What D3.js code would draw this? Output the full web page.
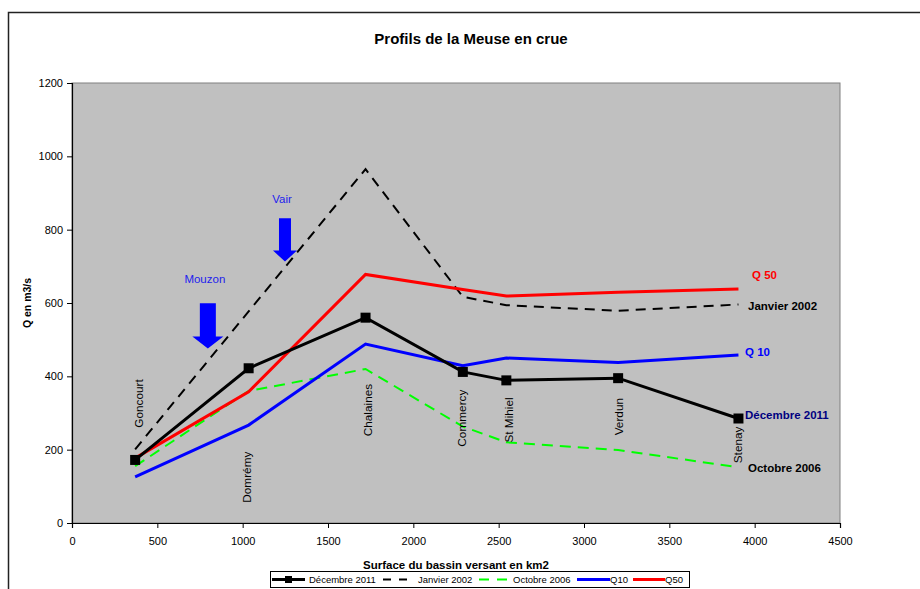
<!DOCTYPE html>
<html><head><meta charset="utf-8">
<script src="https://cdn.jsdelivr.net/npm/d3@7"></script>
<style>
body{margin:0;background:#fff;}
svg{display:block;font-family:"Liberation Sans",Arial,sans-serif;}
</style></head>
<body><svg id="c" width="920" height="589"></svg>
<script>
// ---- data ----
const stations = ["Goncourt","Domrémy","Chalaines","Commercy","St Mihiel","Verdun","Stenay"];
const surfaces = [370, 1035, 1720, 2290, 2545, 3200, 3905];
const dec2011 = [172, 422, 560, 412, 389, 395, 285];
const jan2002 = [201, 577, 965, 617, 594, 579, 596];
const oct2006 = [155, 360, 420, 263, 220, 199, 152];
const q10 = [126, 267, 488, 429, 450, 438, 458];
const q50 = [177, 358, 678, 637, 619, 629, 638];
const seriesNames = ["Décembre 2011","Janvier 2002","Octobre 2006","Q10","Q50"];
const endLabels = ["Décembre 2011","Janvier 2002","Octobre 2006","Q 10","Q 50"];
const xTicks = [0,500,1000,1500,2000,2500,3000,3500,4000,4500];
const yTicks = [0,200,400,600,800,1000,1200];
// station label positions (data coords: y of label centre)
const stationLabelY = [326, 125, 308, 286, 281, 290, 213];
const stationLabelDx = [8, 2, 6, 3, 7, 5, 4];
// tributary annotations (data coords)
const tributaries = ["Mouzon","Vair"];
const tribArrowX = [796, 1248];
const tribArrowTop = [599, 831];
const tribArrowTip = [476, 713];
const tribLabelY = [654, 873];

const svg = d3.select("#c");
const x = d3.scaleLinear().domain([0,4500]).range([72,840]);
const y = d3.scaleLinear().domain([0,1200]).range([523,83]);

// outer frame
svg.append("path").attr("d","M8.5,600 L8.5,12.5 L930,12.5").attr("fill","none").attr("stroke","#222").attr("stroke-width",1.5);

// title
svg.append("text").attr("x",471).attr("y",44).attr("text-anchor","middle")
  .attr("font-size",15).attr("font-weight","bold").text("Profils de la Meuse en crue");

// plot area
svg.append("rect").attr("x",x(0)).attr("y",y(1200)).attr("width",x(4500)-x(0)).attr("height",y(0)-y(1200))
  .attr("fill","#C0C0C0").attr("stroke","#808080").attr("stroke-width",1);

// axes
const gx = svg.append("g").attr("transform",`translate(0,${y(0)})`)
  .call(d3.axisBottom(x).tickValues(xTicks).tickSize(5).tickPadding(9).tickFormat(d3.format("d")));
const gy = svg.append("g").attr("transform",`translate(${x(0)},0)`)
  .call(d3.axisLeft(y).tickValues(yTicks).tickSize(5).tickPadding(4).tickFormat(d3.format("d")));
[gx,gy].forEach(g=>{
  g.select(".domain").attr("stroke","#000").attr("stroke-width",1.2);
  g.selectAll(".tick line").attr("stroke","#000");
  g.selectAll(".tick text").attr("font-size",11).attr("font-family","Liberation Sans, Arial, sans-serif").attr("fill","#000");
});

// axis titles
svg.append("text").attr("x",(x(0)+x(4500))/2).attr("y",569).attr("text-anchor","middle")
  .attr("font-size",11.5).attr("font-weight","bold").text("Surface du bassin versant en km2");
svg.append("text").attr("transform",`translate(31,${(y(0)+y(1200))/2}) rotate(-90)`).attr("text-anchor","middle")
  .attr("font-size",10.5).attr("font-weight","bold").text("Q en m3/s");

// series
const series = [
  {name:seriesNames[0], vals:dec2011, color:"#000", w:3, dash:null, marker:true},
  {name:seriesNames[1], vals:jan2002, color:"#000", w:2, dash:"10,7", marker:false},
  {name:seriesNames[2], vals:oct2006, color:"#00FF00", w:2, dash:"11,7", marker:false},
  {name:seriesNames[3], vals:q10, color:"#0000FF", w:3, dash:null, marker:false},
  {name:seriesNames[4], vals:q50, color:"#FF0000", w:3, dash:null, marker:false}
];
const line = d3.line().x(d=>x(d[0])).y(d=>y(d[1]));
const drawOrder = [1,2,3,4,0];
drawOrder.forEach(i=>{
  const s = series[i];
  svg.append("path").datum(surfaces.map((sx,j)=>[sx,s.vals[j]]))
    .attr("d",line).attr("fill","none").attr("stroke",s.color).attr("stroke-width",s.w)
    .attr("stroke-dasharray",s.dash).attr("stroke-linejoin","miter");
});
svg.selectAll("rect.mk").data(surfaces.map((sx,j)=>[sx,dec2011[j]])).enter().append("rect")
  .attr("class","mk").attr("x",d=>x(d[0])-5).attr("y",d=>y(d[1])-5).attr("width",10).attr("height",10).attr("fill","#000");

// station labels (rotated)
stations.forEach((st,i)=>{
  svg.append("text")
    .attr("transform",`translate(${x(surfaces[i])+stationLabelDx[i]},${y(stationLabelY[i])}) rotate(-90)`)
    .attr("text-anchor","middle").attr("font-size",11.8).attr("fill","#000").text(st);
});

// end-of-series labels
const endColors = ["#000080","#000","#000","#0000FF","#FF0000"];
const endPos = [[745,418.5],[748,309.5],[748,471.5],[745,356],[752,278.5]];
endLabels.forEach((t,i)=>{
  svg.append("text").attr("x",endPos[i][0]).attr("y",endPos[i][1]).attr("font-size",11.5)
    .attr("font-weight","bold").attr("fill",endColors[i]).text(t);
});

// tributary arrows
tributaries.forEach((t,i)=>{
  const cx = x(tribArrowX[i]);
  const top = y(tribArrowTop[i]), tip = y(tribArrowTip[i]);
  const sw = i===0?8:6, hw = i===0?15.5:12, hh = i===0?12:11;
  svg.append("path").attr("d",`M${cx-sw},${top} L${cx+sw},${top} L${cx+sw},${tip-hh} L${cx+hw},${tip-hh} L${cx},${tip} L${cx-hw},${tip-hh} L${cx-sw},${tip-hh} Z`)
    .attr("fill","#0000FF");
  svg.append("text").attr("x",cx-3).attr("y",y(tribLabelY[i])).attr("text-anchor","middle")
    .attr("font-size",11.5).attr("fill","#2222EE").text(t);
});

// legend
const lg = svg.append("g");
lg.append("rect").attr("x",270.5).attr("y",571.5).attr("width",419).attr("height",16).attr("fill","#fff").attr("stroke","#000").attr("stroke-width",1);
const legX = [272, 383, 479, 577, 633];
const legW = [33, 31, 30, 33, 32];
series.forEach((s,i)=>{
  const ly = 579.5;
  lg.append("line").attr("x1",legX[i]).attr("x2",legX[i]+legW[i]).attr("y1",ly).attr("y2",ly)
    .attr("stroke",s.color).attr("stroke-width",s.w).attr("stroke-dasharray",s.dash? (i===1?"8,8":"10,8"):null);
  if(s.marker) lg.append("rect").attr("x",legX[i]+legW[i]/2-3.5).attr("y",ly-3.5).attr("width",7).attr("height",7).attr("fill","#000");
  lg.append("text").attr("x",legX[i]+legW[i]+(s.dash||s.marker?4:0)).attr("y",583).attr("font-size",9.5).text(s.name);
});
</script></body></html>
